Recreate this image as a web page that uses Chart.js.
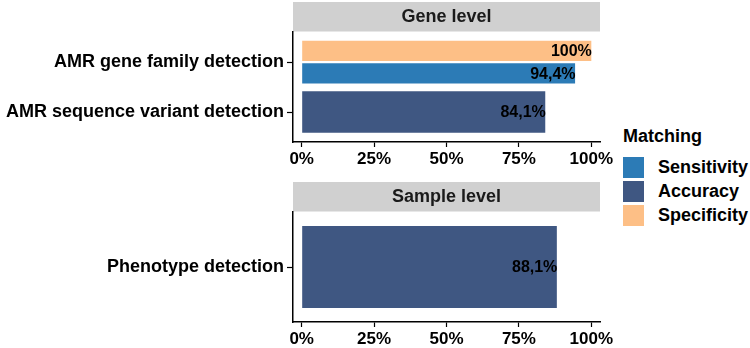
<!DOCTYPE html>
<html>
<head>
<meta charset="utf-8">
<script src="https://cdn.jsdelivr.net/npm/chart.js@4.4.1/dist/chart.umd.min.js"></script>
<style>
  body { margin: 0; background: #fff; width: 750px; height: 348px; overflow: hidden; position: relative;
         font-family: "Liberation Sans", Arial, sans-serif; }
  canvas { position: absolute; left: 0; }
  #gene { top: 0; }
  #sample { top: 180px; }
  #legend { position: absolute; left: 623px; top: 0; font-weight: bold; font-size: 18px; color: #000; }
  #legend .title { position: absolute; left: 0; top: 127px; line-height: 18px; white-space: nowrap; }
  #legend .item { position: absolute; left: 0; height: 21px; white-space: nowrap; }
  #legend .key { position: absolute; left: 0; top: 0; width: 21px; height: 21px; }
  #legend .lab { position: absolute; left: 35px; top: 0; line-height: 21px; }
</style>
</head>
<body>
<canvas id="gene" width="620" height="170"></canvas>
<canvas id="sample" width="620" height="168"></canvas>
<div id="legend"></div>
<script>
// ── data ──────────────────────────────────────────────
const geneCategories   = ["AMR gene family detection", "AMR sequence variant detection"];
const sampleCategories = ["Phenotype detection"];
const panelTitles      = ["Gene level", "Sample level"];
const legendTitle      = "Matching";
const seriesNames      = ["Sensitivity", "Accuracy", "Specificity"];
const seriesColors     = ["#2c7bb6", "#3f5782", "#fdbf86"];

const geneSensitivity  = [94.4, null];
const geneAccuracy     = [null, 84.1];
const geneSpecificity  = [100, null];
const sampleAccuracy   = [88.1];

const xTicks = [0, 25, 50, 75, 100];

const FONT = '"Liberation Sans", Arial, sans-serif';

// categories listed top-down -> linear positions n..1
function toPoints(values, cats) {
  return values.map((v, i) => ({ x: v, y: cats.length - i }));
}

function fmtPct(v) {
  return (Number.isInteger(v) ? String(v) : v.toFixed(1).replace(".", ",")) + "%";
}

// ── plugins ───────────────────────────────────────────
const stripPlugin = {
  id: "strip",
  beforeDraw(chart, args, opts) {
    const { left, right, top } = chart.chartArea;
    const ctx = chart.ctx;
    ctx.save();
    ctx.fillStyle = "#d0d0d0";
    ctx.fillRect(left, top - 30, right - left, 29.5);
    ctx.fillStyle = "#1a1a1a";
    ctx.font = "bold 18px " + FONT;
    ctx.textAlign = "center";
    ctx.textBaseline = "middle";
    ctx.fillText(opts.text, (left + right) / 2, top - 14.5);
    ctx.restore();
  }
};

const barLabelPlugin = {
  id: "barLabels",
  afterDatasetsDraw(chart) {
    const ctx = chart.ctx;
    ctx.save();
    ctx.font = "bold 16px " + FONT;
    ctx.fillStyle = "#000";
    ctx.textAlign = "right";
    ctx.textBaseline = "middle";
    chart.data.datasets.forEach((ds, di) => {
      chart.getDatasetMeta(di).data.forEach((bar, i) => {
        const v = ds.data[i].x;
        if (v === null || v === undefined) return;
        ctx.fillText(fmtPct(v), bar.x + 0.5, bar.y + 1);
      });
    });
    ctx.restore();
  }
};

// ── panel builder ─────────────────────────────────────
function makePanel(canvasId, title, cats, datasets, xHeight) {
  return new Chart(document.getElementById(canvasId), {
    type: "bar",
    data: { datasets },
    plugins: [stripPlugin, barLabelPlugin],
    options: {
      responsive: false,
      animation: false,
      indexAxis: "y",
      layout: { padding: { top: 32, right: 20, left: 0, bottom: 0 } },
      scales: {
        x: {
          type: "linear",
          min: -3,
          max: 103,
          offset: false,
          afterBuildTicks: s => { s.ticks = xTicks.map(v => ({ value: v })); },
          afterFit: s => { s.height = xHeight; },
          ticks: {
            callback: v => v + "%",
            color: "#000",
            font: { family: FONT, size: 17, weight: "bold" },
            padding: 2,
            maxRotation: 0,
            autoSkip: false,
          },
          grid: { offset: false, drawOnChartArea: false, tickLength: 5, tickColor: "#000", tickWidth: 1.2 },
          border: { color: "#000", width: 1.5 },
        },
        y: {
          type: "linear",
          min: 0.4,
          max: cats.length + 0.6,
          offset: false,
          afterBuildTicks: s => { s.ticks = cats.map((_, i) => ({ value: i + 1 })); },
          afterFit: s => { s.width = 293; },
          ticks: {
            callback: v => cats[cats.length - v],
            color: "#000",
            font: { family: FONT, size: 18, weight: "bold" },
            padding: 3,
            autoSkip: false,
          },
          grid: { offset: false, drawOnChartArea: false, tickLength: 6, tickColor: "#000", tickWidth: 1.2 },
          border: { color: "#000", width: 1.5 },
        },
      },
      plugins: {
        legend: { display: false },
        tooltip: { enabled: false },
        strip: { text: title },
      },
    },
  });
}

function barSet(name, values, cats, catPct, barPct) {
  const k = seriesNames.indexOf(name);
  return {
    label: name,
    data: toPoints(values, cats),
    backgroundColor: seriesColors[k],
    borderWidth: 0,
    skipNull: true,
    categoryPercentage: catPct,
    barPercentage: barPct,
  };
}

makePanel("gene", panelTitles[0], geneCategories, [
  barSet("Specificity", geneSpecificity, geneCategories, 0.9, 0.9),
  barSet("Sensitivity", geneSensitivity, geneCategories, 0.9, 0.9),
  barSet("Accuracy",    geneAccuracy,    geneCategories, 0.9, 0.918),
], 170 - 142);

makePanel("sample", panelTitles[1], sampleCategories, [
  barSet("Accuracy", sampleAccuracy, sampleCategories, 0.9, 0.83),
], 168 - 142);

// ── legend ────────────────────────────────────────────
const legend = document.getElementById("legend");
legend.innerHTML = `<div class="title">${legendTitle}</div>` +
  seriesNames.map((name, i) => `
    <div class="item" style="top:${157 + 24 * i}px">
      <div class="key" style="background:${seriesColors[i]}"></div>
      <div class="lab">${name}</div>
    </div>`).join("");
</script>
</body>
</html>
